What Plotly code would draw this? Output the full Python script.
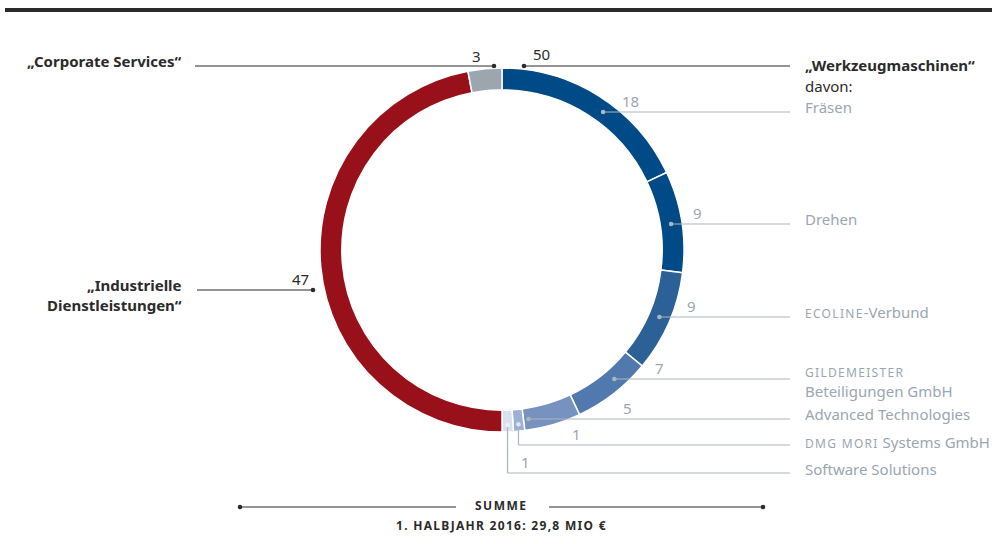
import math
import plotly.graph_objects as go

# ---------------- data ----------------
segments = ["Fräsen", "Drehen", "ECOLINE-Verbund", "GILDEMEISTER Beteiligungen GmbH",
            "Advanced Technologies", "DMG MORI Systems GmbH", "Software Solutions",
            "Industrielle Dienstleistungen", "Corporate Services"]
values = [18, 9, 9, 7, 5, 1, 1, 47, 3]
seg_colors = ["#004b87", "#004b87", "#2c6198", "#5279ad", "#7892bf", "#9cb0d4", "#d9e0ee",
              "#98111a", "#9ba6ae"]
group_names = ["„Werkzeugmaschinen“", "„Industrielle<br>Dienstleistungen“", "„Corporate Services“"]
group_values = [sum(values[:7]), values[7], values[8]]
SC = "<span style='font-size:12px;letter-spacing:1.3px'>"
sub_labels = ["Fräsen", "Drehen",
              SC + "ECOLINE</span>-Verbund",
              SC + "GILDEMEISTER</span><br>Beteiligungen GmbH",
              "Advanced Technologies",
              SC + "DMG MORI</span> Systems GmbH",
              "Software Solutions"]
sum_title = "SUMME"
sum_text = "1. HALBJAHR 2016: 29,8 MIO €"

# ---------------- layout helpers ----------------
W, H = 997, 544
CX, CY, R = 502, 250, 182
HOLE = 0.88
RM = R * (1 + HOLE) / 2  # mid-ring radius


def px(x):
    return x / W


def py(y):
    return 1 - y / H


DARK = "#2b2b2b"
GRAY_TXT = "#9aa6b1"
GRAY_LINE = "#a9b5bf"
FONT = "Noto Sans"
FS = 15

fig = go.Figure()
fig.add_trace(go.Pie(
    values=values, labels=segments, sort=False, direction="clockwise", rotation=0,
    hole=HOLE, textinfo="none", hoverinfo="label+value",
    marker=dict(colors=seg_colors, line=dict(color="white", width=1.5)),
    domain=dict(x=[px(CX - R), px(CX + R)], y=[py(CY + R), py(CY - R)]),
    showlegend=False,
))

shapes = []
annotations = []


def line(x0, y0, x1, y1, color, width=1.2):
    shapes.append(dict(type="line", xref="paper", yref="paper",
                       x0=px(x0), y0=py(y0), x1=px(x1), y1=py(y1),
                       line=dict(color=color, width=width)))


def dot(x, y, color, r=2.3):
    shapes.append(dict(type="circle", xref="paper", yref="paper",
                       x0=px(x - r), y0=py(y - r), x1=px(x + r), y1=py(y + r),
                       fillcolor=color, line=dict(width=0)))


def text(x, y, t, color, size=FS, xanchor="left", yanchor="middle", bold=False, align="left"):
    if bold:
        t = "<b>" + t + "</b>"
    annotations.append(dict(x=px(x), y=py(y), xref="paper", yref="paper", text=t,
                            showarrow=False, xanchor=xanchor, yanchor=yanchor, align=align,
                            font=dict(family=FONT, size=size, color=color)))


# top rule
line(5, 10, 992, 10, DARK, 4)

# cumulative angles of segments (degrees clockwise from 12 o'clock)
total = sum(values)
starts = []
acc = 0
for v in values:
    starts.append(acc / total * 360)
    acc += v
mids = [s + v / total * 180 for s, v in zip(starts, values)]

LINE_END = 790
LABEL_X = 803

# right side sub labels: horizontal leader at given y, dot on mid ring
side_y = [112, 224, 317, 379, 419]
num_x = [630, 697, 691, 659, 627]
for i, y in enumerate(side_y):
    dx = math.sqrt(max(RM ** 2 - (y - CY) ** 2, 0))
    x = CX + dx
    line(x, y, LINE_END, y, GRAY_LINE)
    dot(x, y, GRAY_LINE)
    text(num_x[i], y - 11, str(values[i]), GRAY_TXT, xanchor="center")

# label texts right
text(LABEL_X, 65, group_names[0], DARK, bold=True)
text(LABEL_X, 86, "davon:", DARK)
text(LABEL_X, 107, sub_labels[0], GRAY_TXT)
text(LABEL_X, 219, sub_labels[1], GRAY_TXT)
text(LABEL_X, 312, sub_labels[2], GRAY_TXT)
text(LABEL_X, 382, sub_labels[3], GRAY_TXT)
text(LABEL_X, 414, sub_labels[4], GRAY_TXT)
text(LABEL_X, 442, sub_labels[5], GRAY_TXT)
text(LABEL_X, 469, sub_labels[6], GRAY_TXT)

# small segments: elbow leaders
elbow_y = [445, 473]
elbow_num_x = [576, 525]
for k, idx in enumerate([5, 6]):
    a = math.radians(mids[idx])
    x = CX + (RM + 4) * math.sin(a)
    y = CY - (RM + 4) * math.cos(a)
    line(x, y, x, elbow_y[k], GRAY_LINE)
    line(x, elbow_y[k], LINE_END, elbow_y[k], GRAY_LINE)
    dot(x, y, "#eef1f6" if idx == 6 else "#dfe5ef", 2.2)
    text(elbow_num_x[k], elbow_y[k] - 11, str(values[idx]), GRAY_TXT, xanchor="center")

# Werkzeugmaschinen group leader
line(524, 66, LINE_END, 66, DARK)
dot(524, 66, DARK)
text(541, 54, str(group_values[0]), DARK, xanchor="center")

# Corporate Services leader
line(195, 66, 494, 66, DARK)
dot(494, 66, DARK)
text(476, 56, str(group_values[2]), DARK, xanchor="center")
text(183, 61, group_names[2], DARK, xanchor="right", bold=True)

# Industrielle Dienstleistungen leader
line(197, 290, 313, 290, DARK)
dot(313, 290, DARK)
text(300, 279, str(group_values[1]), DARK, xanchor="center")
text(184, 295, group_names[1], DARK, xanchor="right", bold=True, align="right")

# bottom sum
line(240, 507, 456, 507, DARK)
line(549, 507, 763, 507, DARK)
dot(240, 507, DARK)
dot(763, 507, DARK)
annotations.append(dict(x=px(CX), y=py(505), xref="paper", yref="paper",
                        text="<b><span style='letter-spacing:1.5px'>" + sum_title + "</span></b>",
                        showarrow=False, xanchor="center", yanchor="middle",
                        font=dict(family=FONT, size=12, color=DARK)))
annotations.append(dict(x=px(CX), y=py(525), xref="paper", yref="paper",
                        text="<b><span style='letter-spacing:1.3px'>" + sum_text + "</span></b>",
                        showarrow=False, xanchor="center", yanchor="middle",
                        font=dict(family=FONT, size=12, color=DARK)))

fig.update_layout(
    width=W, height=H, margin=dict(l=0, r=0, t=0, b=0),
    paper_bgcolor="white", plot_bgcolor="white",
    shapes=shapes, annotations=annotations,
)

fig.write_html("out.html")
